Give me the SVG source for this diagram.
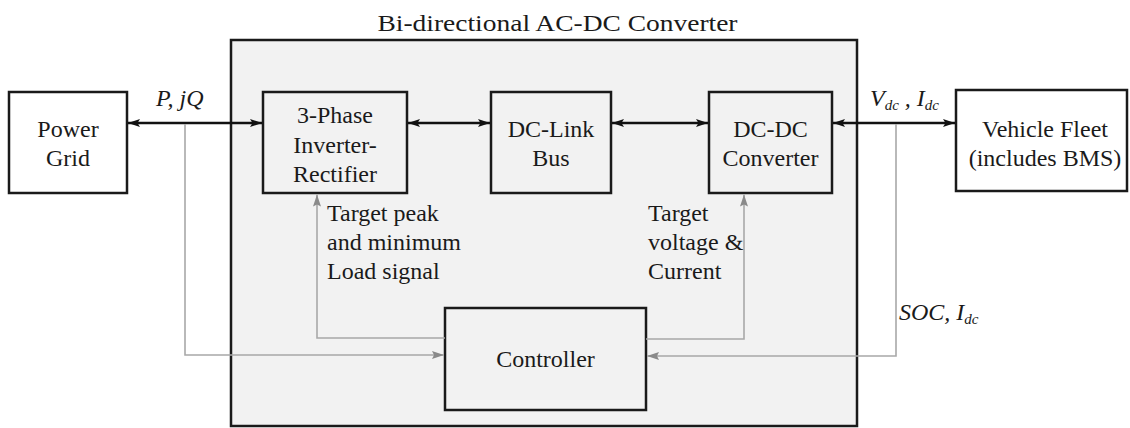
<svg xmlns="http://www.w3.org/2000/svg" width="1130" height="428" viewBox="0 0 1130 428">
  <style>
    text { font-family: "Liberation Serif", "Times New Roman", serif; font-size: 24px; fill: #1a1a1a; }
    .c { text-anchor: middle; }
    .it { font-style: italic; }
    .sub { font-size: 15px; font-style: italic; }
    .box { fill: #f2f2f2; stroke: #1a1a1a; stroke-width: 2.5; }
    .ext { fill: #ffffff; stroke: #1a1a1a; stroke-width: 2.5; }
    .power { fill: none; stroke: #111; stroke-width: 2.5; }
    .signal { fill: none; stroke: #a8a8a8; stroke-width: 1.6; }
  </style>
  <defs>
    <marker id="blk" viewBox="0 0 12 8" refX="12" refY="4" markerWidth="12" markerHeight="8" markerUnits="userSpaceOnUse" orient="auto-start-reverse">
      <path d="M0,0 L12,4 L0,8 L2.5,4 Z" fill="#111"/>
    </marker>
    <marker id="gry" viewBox="0 0 12 8" refX="12" refY="4" markerWidth="12" markerHeight="8" markerUnits="userSpaceOnUse" orient="auto">
      <path d="M0,0 L12,4 L0,8 L2,4 Z" fill="#8a8a8a"/>
    </marker>
  </defs>

  <!-- enclosure -->
  <g id="converter">
    <rect class="box" x="231" y="40" width="626" height="386"/>
    <text class="c" x="557.5" y="31" font-size="27.5" textLength="360" lengthAdjust="spacingAndGlyphs">Bi-directional AC-DC Converter</text>
  </g>

  <g id="power-grid">
    <rect class="ext" x="9" y="92" width="118" height="101"/>
    <text class="c" x="68" y="137">Power</text>
    <text class="c" x="68" y="166">Grid</text>
  </g>

  <g id="inverter">
    <rect class="box" x="263" y="92" width="144" height="101"/>
    <text class="c" x="335" y="123">3-Phase</text>
    <text class="c" x="335" y="153">Inverter-</text>
    <text class="c" x="335" y="182">Rectifier</text>
  </g>

  <g id="dc-link">
    <rect class="box" x="491" y="92" width="120" height="101"/>
    <text class="c" x="551" y="137">DC-Link</text>
    <text class="c" x="551" y="166">Bus</text>
  </g>

  <g id="dc-dc">
    <rect class="box" x="709" y="92" width="123" height="101"/>
    <text class="c" x="770.5" y="137">DC-DC</text>
    <text class="c" x="770.5" y="166">Converter</text>
  </g>

  <g id="vehicle-fleet">
    <rect class="ext" x="956" y="90" width="171" height="101"/>
    <text class="c" x="1045" y="137">Vehicle Fleet</text>
    <text class="c" x="1045" y="166">(includes BMS)</text>
  </g>

  <g id="controller">
    <rect class="box" x="445" y="308" width="201" height="102"/>
    <text class="c" x="545.5" y="367">Controller</text>
  </g>

  <g id="connectors">
    <!-- power flow -->
    <line class="power" x1="128" y1="123" x2="262" y2="123" marker-start="url(#blk)" marker-end="url(#blk)"/>
    <line class="power" x1="408" y1="123" x2="490" y2="123" marker-start="url(#blk)" marker-end="url(#blk)"/>
    <line class="power" x1="612" y1="123" x2="708" y2="123" marker-start="url(#blk)" marker-end="url(#blk)"/>
    <line class="power" x1="833" y1="123" x2="955" y2="123" marker-start="url(#blk)" marker-end="url(#blk)"/>
    <!-- measurement / control signals -->
    <polyline class="signal" points="185,124 185,355 444,355" marker-end="url(#gry)"/>
    <polyline class="signal" points="445,338 317,338 317,194.5" marker-end="url(#gry)"/>
    <polyline class="signal" points="646,339 744,339 744,194.5" marker-end="url(#gry)"/>
    <polyline class="signal" points="896,124 896,356 647,356" marker-end="url(#gry)"/>
  </g>

  <g id="labels">
    <text class="it" x="156" y="106">P, jQ</text>
    <text class="it" x="870" y="106">V<tspan class="sub" dy="4">dc</tspan><tspan dy="-4"> , I</tspan><tspan class="sub" dy="4">dc</tspan></text>
    <text class="it" x="899" y="320">SOC, I<tspan class="sub" dy="4">dc</tspan></text>
    <text x="327" y="221">Target peak</text>
    <text x="327" y="250">and minimum</text>
    <text x="327" y="279">Load signal</text>
    <text x="648" y="221">Target</text>
    <text x="648" y="250">voltage &amp;</text>
    <text x="648" y="279">Current</text>
  </g>
</svg>
